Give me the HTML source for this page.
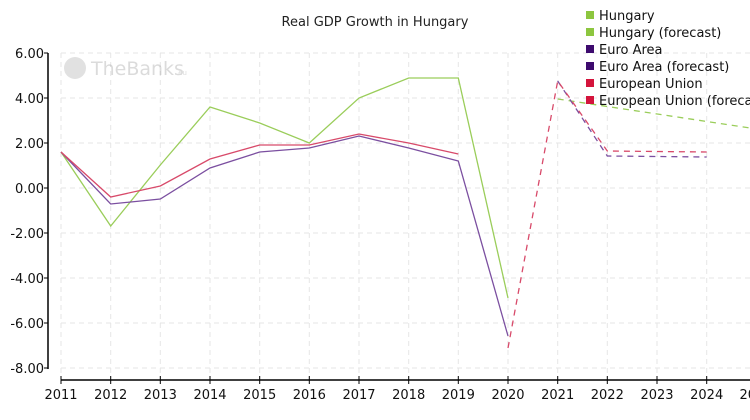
<!DOCTYPE html><html><head><style>body{margin:0;background:#fff}svg{display:block}</style></head><body>
<svg width="750" height="420" xmlns="http://www.w3.org/2000/svg" font-family="DejaVu Sans, sans-serif">
<text x="375" y="26" font-size="13" text-anchor="middle" fill="#222">Real GDP Growth in Hungary</text>
<g stroke="#e6e6e6" stroke-dasharray="5,4" stroke-width="1">
<line x1="61" y1="53" x2="750" y2="53"/><line x1="61" y1="98" x2="750" y2="98"/><line x1="61" y1="143" x2="750" y2="143"/><line x1="61" y1="188" x2="750" y2="188"/><line x1="61" y1="233" x2="750" y2="233"/><line x1="61" y1="278" x2="750" y2="278"/><line x1="61" y1="323" x2="750" y2="323"/><line x1="61" y1="368" x2="750" y2="368"/>
<line x1="61" y1="53" x2="61" y2="378"/><line x1="110.7" y1="53" x2="110.7" y2="378"/><line x1="160.3" y1="53" x2="160.3" y2="378"/><line x1="210" y1="53" x2="210" y2="378"/><line x1="259.7" y1="53" x2="259.7" y2="378"/><line x1="309.3" y1="53" x2="309.3" y2="378"/><line x1="359" y1="53" x2="359" y2="378"/><line x1="408.7" y1="53" x2="408.7" y2="378"/><line x1="458.3" y1="53" x2="458.3" y2="378"/><line x1="508" y1="53" x2="508" y2="378"/><line x1="557.7" y1="53" x2="557.7" y2="378"/><line x1="607.3" y1="53" x2="607.3" y2="378"/><line x1="657" y1="53" x2="657" y2="378"/><line x1="706.7" y1="53" x2="706.7" y2="378"/>
</g>
<g opacity="0.35"><circle cx="75" cy="68" r="11" fill="#aaa"/><text x="91" y="75" font-size="19" fill="#999">TheBanks</text><text x="176" y="75" font-size="7" fill="#999">.eu</text></g>
<g stroke="#000" stroke-width="1.5"><line x1="48" y1="53" x2="48" y2="369"/><line x1="61" y1="380" x2="750" y2="380"/></g>
<g stroke="#000" stroke-width="1">
<line x1="44" y1="53" x2="48" y2="53"/><line x1="44" y1="98" x2="48" y2="98"/><line x1="44" y1="143" x2="48" y2="143"/><line x1="44" y1="188" x2="48" y2="188"/><line x1="44" y1="233" x2="48" y2="233"/><line x1="44" y1="278" x2="48" y2="278"/><line x1="44" y1="323" x2="48" y2="323"/><line x1="44" y1="368" x2="48" y2="368"/>
<line x1="61" y1="376" x2="61" y2="384"/><line x1="110.7" y1="376" x2="110.7" y2="384"/><line x1="160.3" y1="376" x2="160.3" y2="384"/><line x1="210" y1="376" x2="210" y2="384"/><line x1="259.7" y1="376" x2="259.7" y2="384"/><line x1="309.3" y1="376" x2="309.3" y2="384"/><line x1="359" y1="376" x2="359" y2="384"/><line x1="408.7" y1="376" x2="408.7" y2="384"/><line x1="458.3" y1="376" x2="458.3" y2="384"/><line x1="508" y1="376" x2="508" y2="384"/><line x1="557.7" y1="376" x2="557.7" y2="384"/><line x1="607.3" y1="376" x2="607.3" y2="384"/><line x1="657" y1="376" x2="657" y2="384"/><line x1="706.7" y1="376" x2="706.7" y2="384"/>
</g>
<g font-size="13" fill="#111" text-anchor="end">
<text x="44" y="58">6.00</text><text x="44" y="103">4.00</text><text x="44" y="148">2.00</text><text x="44" y="193">0.00</text><text x="44" y="238">-2.00</text><text x="44" y="283">-4.00</text><text x="44" y="328">-6.00</text><text x="44" y="373">-8.00</text>
</g>
<g font-size="13" fill="#111" text-anchor="middle">
<text x="61" y="399">2011</text><text x="110.7" y="399">2012</text><text x="160.3" y="399">2013</text><text x="210" y="399">2014</text><text x="259.7" y="399">2015</text><text x="309.3" y="399">2016</text><text x="359" y="399">2017</text><text x="408.7" y="399">2018</text><text x="458.3" y="399">2019</text><text x="508" y="399">2020</text><text x="557.7" y="399">2021</text><text x="607.3" y="399">2022</text><text x="657" y="399">2023</text><text x="706.7" y="399">2024</text><text x="756" y="399">2025</text>
</g>
<g fill="none" stroke-width="1.3">
<polyline stroke="#9acd5a" points="61,152 110.7,226 160.3,165 210,107 259.7,123 309.3,143 359,98 408.7,78 458.3,78 508,298"/>
<polyline stroke="#7b4fa0" points="61,152 110.7,204 160.3,199 210,168 259.7,152 309.3,148 359,136 408.7,148 458.3,161 508,336"/>
<polyline stroke="#d84a6a" points="61,152 110.7,197 160.3,186 210,159 259.7,145 309.3,145 359,134 408.7,143 458.3,154"/>
<polyline stroke="#9acd5a" stroke-dasharray="6,5" points="557.7,99 750,128"/>
<polyline stroke="#7b4fa0" stroke-dasharray="6,5" points="557.7,81 607.3,156 657,156.5 706.7,157"/>
<polyline stroke="#d84a6a" stroke-dasharray="6,5" points="508,348 557.7,81 607.3,151 657,151.5 706.7,152"/>
</g>
<g font-size="13" fill="#111">
<rect x="586" y="11" width="8" height="8" fill="#8dc63f"/><text x="599" y="20">Hungary</text>
<rect x="586" y="28" width="8" height="8" fill="#8dc63f"/><text x="599" y="37">Hungary (forecast)</text>
<rect x="586" y="45" width="8" height="8" fill="#3d0a6e"/><text x="599" y="54">Euro Area</text>
<rect x="586" y="62" width="8" height="8" fill="#3d0a6e"/><text x="599" y="71">Euro Area (forecast)</text>
<rect x="586" y="79" width="8" height="8" fill="#d4143c"/><text x="599" y="88">European Union</text>
<rect x="586" y="96" width="8" height="8" fill="#d4143c"/><text x="599" y="105">European Union (forecast)</text>
</g>
</svg></body></html>
